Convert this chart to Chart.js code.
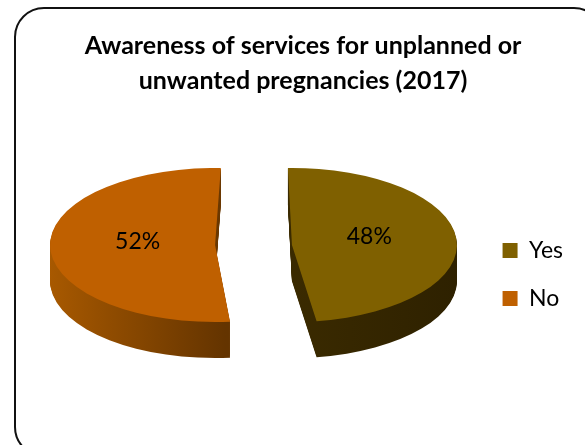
<!DOCTYPE html>
<html>
<head>
<meta charset="utf-8">
<script src="https://cdn.jsdelivr.net/npm/chart.js@4"></script>
<style>
  html, body { margin: 0; padding: 0; background: #fff; overflow: hidden; }
  #wrap { position: relative; width: 585px; height: 445px; overflow: hidden; }
  #frame {
    position: absolute; left: 14px; top: 7px; width: 590px; height: 450px;
    border: 2.5px solid #111; border-radius: 30px; box-sizing: border-box;
  }
  #chart { position: absolute; left: 0; top: 0; }
</style>
</head>
<body>
<div id="wrap">
  <div id="frame"></div>
  <canvas id="chart" width="585" height="445"></canvas>
</div>
<script>
const titleLines = ['Awareness of services for unplanned or', 'unwanted pregnancies (2017)']
const categories = ['Yes', 'No']
const shares = [48, 52]
const topColors = ['#7f6000', '#bf6000']
const sideColors = [['#3a2a00', '#2e2100'], ['#a85900', '#643400']]

// flattened pie: centre, radii, wall height and gap between the slices, in px
const pie3d = { cx: 253.5, cy: 245, rx: 165, ry: 77, depth: 36, explode: 38.5 }
// the original's perspective turns each slice a little, in degrees
const sliceTilt = [-1.4, 2]
const FONT = 'Lato, Carlito, Calibri, sans-serif'

const pie3dPlugin = {
  id: 'pie3d',
  beforeDatasetsDraw(chart) {
    const { ctx } = chart
    const arcs = chart.getDatasetMeta(0).data

    arcs.forEach((arc, i) => {
      const R = arc.outerRadius
      const sx = pie3d.rx / R
      const sy = pie3d.ry / R
      const mid = arc.startAngle + arc.circumference / 2
      const apexX = pie3d.cx + Math.cos(mid) * pie3d.explode
      const base = arc.options

      const project = (dy) => {
        ctx.translate(apexX, pie3d.cy + dy)
        ctx.scale(sx, sy)
        ctx.rotate((sliceTilt[i] * Math.PI) / 180)
        ctx.translate(-arc.x, -arc.y)
      }

      // wall first, stacked up from the bottom, then the top face
      const right = Math.cos(mid) > 0
      const grad = ctx.createLinearGradient(
        right ? arc.x : arc.x - R, 0, right ? arc.x + R : arc.x + R * 0.1, 0)
      grad.addColorStop(0, sideColors[i][0])
      grad.addColorStop(1, sideColors[i][1])

      arc.options = { ...base, backgroundColor: grad }
      for (let d = pie3d.depth; d > 0; d--) {
        ctx.save()
        project(d)
        arc.draw(ctx)
        ctx.restore()
      }

      arc.options = base
      ctx.save()
      project(0)
      arc.draw(ctx)
      ctx.restore()

      // percentage label, half way out along the slice
      const lx = apexX + Math.cos(mid) * pie3d.rx * 0.47
      const ly = pie3d.cy + Math.sin(mid) * pie3d.ry * 0.47 - 6
      ctx.save()
      ctx.fillStyle = '#000'
      ctx.font = `23px ${FONT}`
      ctx.textAlign = 'center'
      ctx.textBaseline = 'middle'
      ctx.fillText(`${shares[i]}%`, lx, ly)
      ctx.restore()
    })
    return false
  },
}

new Chart(document.getElementById('chart'), {
  type: 'pie',
  data: {
    labels: categories,
    datasets: [
      {
        data: shares,
        backgroundColor: topColors,
        borderWidth: 0,
      },
    ],
  },
  options: {
    responsive: false,
    animation: false,
    layout: { padding: { left: 33, right: 12, top: 28, bottom: 0 } },
    plugins: {
      tooltip: { enabled: false },
      title: {
        display: true,
        text: titleLines,
        color: '#000',
        font: { family: FONT, size: 25, weight: 'bold', lineHeight: 1.4 },
        padding: { top: 0, bottom: 6 },
      },
      legend: {
        position: 'right',
        fullSize: false,
        labels: {
          color: '#000',
          font: { family: FONT, size: 23 },
          boxWidth: 15,
          boxHeight: 15,
          padding: 25,
        },
      },
    },
  },
  plugins: [pie3dPlugin],
})
</script>
</body>
</html>
